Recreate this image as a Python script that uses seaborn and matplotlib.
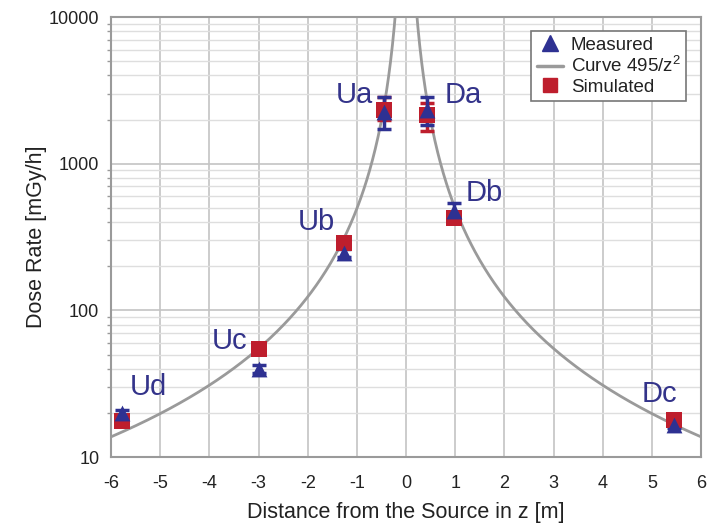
import numpy as np
import pandas as pd
import matplotlib
matplotlib.use("Agg")
import matplotlib.pyplot as plt
import seaborn as sns
from matplotlib.lines import Line2D
from matplotlib.ticker import LogLocator, FixedLocator, NullFormatter

# data
labels = ["Ud", "Uc", "Ub", "Ua", "Da", "Db", "Dc"]
z_pos = [-5.78, -2.99, -1.27, -0.45, 0.42, 0.98, 5.45]
measured = [20, 40, 248, 2250, 2330, 475, 16.5]
meas_err_lo = [1.0, 2.5, 15, 530, 480, 45, 0.8]
meas_err_hi = [1.0, 2.5, 15, 600, 520, 65, 0.8]
simulated = [17.6, 54.5, 288, 2330, 2150, 425, 18]
sim_err_lo = [0.5, 1.5, 12, 350, 480, 30, 0.5]
sim_err_hi = [0.5, 1.5, 12, 520, 450, 20, 0.5]
label_x = [-5.24, -3.6, -1.83, -1.06, 1.16, 1.6, 5.16]
label_y = [30, 62, 400, 2940, 2940, 630, 27]
xticks = list(range(-6, 7))
yticks = [10, 100, 1000, 10000]
curve_k = 495

df = pd.DataFrame({"z": z_pos, "measured": measured, "simulated": simulated})
zz = np.concatenate([np.linspace(-6, -0.2, 300), np.linspace(0.2, 6, 300)])
curve = pd.DataFrame({"z": zz, "dose": curve_k / zz**2,
                      "side": np.where(zz < 0, "L", "R")})

sns.set_style("white")
plt.rcParams["font.family"] = ["Liberation Sans", "DejaVu Sans"]
plt.rcParams["axes.unicode_minus"] = False
plt.rcParams["mathtext.fontset"] = "custom"
plt.rcParams["mathtext.rm"] = "Liberation Sans"

navy = "#2e3192"
red = "#be1e2d"
gray = "#9a9a9a"
txt = "#222222"

fig = plt.figure(figsize=(7.26, 5.23), dpi=100)
ax = fig.add_axes([0.153, 0.126, 0.8126, 0.8414])

ax.set_yscale("log")
ax.set_xlim(-6, 6)
ax.set_ylim(10, 10000)

# grid
ax.xaxis.set_major_locator(FixedLocator(xticks))
ax.yaxis.set_major_locator(FixedLocator(yticks))
ax.yaxis.set_minor_locator(LogLocator(base=10, subs=np.arange(2, 10), numticks=20))
ax.yaxis.set_minor_formatter(NullFormatter())
ax.grid(True, which="major", axis="both", color="#c4c4c4", lw=1.2, zorder=0)
ax.grid(True, which="minor", axis="y", color="#dedede", lw=1.0, zorder=0)
ax.set_axisbelow(True)

# curve 495/z^2
for side, g in curve.groupby("side"):
    sns.lineplot(data=g, x="z", y="dose", color=gray, lw=2.0, ax=ax,
                 zorder=2, legend=False)

# error bars
ax.errorbar(df["z"], df["simulated"], yerr=[sim_err_lo, sim_err_hi], fmt="none",
            ecolor=red, elinewidth=2.5, capsize=5, capthick=2.5, zorder=3)
ax.errorbar(df["z"], df["measured"], yerr=[meas_err_lo, meas_err_hi], fmt="none",
            ecolor=navy, elinewidth=2.5, capsize=5, capthick=2.5, zorder=4)

# markers
sns.scatterplot(data=df, x="z", y="simulated", marker="s", s=120, color=red,
                edgecolor=red, linewidth=0, ax=ax, zorder=5, legend=False)
sns.scatterplot(data=df, x="z", y="measured", marker="^", s=130, color=navy,
                edgecolor=navy, linewidth=0, ax=ax, zorder=6, legend=False)

for t, x, y in zip(labels, label_x, label_y):
    ax.text(x, y, t, color="#33338a", fontsize=21, ha="center", va="center", zorder=7)

# legend
handles = [
    Line2D([], [], marker="^", color=navy, ls="none", markersize=12),
    Line2D([], [], color=gray, lw=2.5),
    Line2D([], [], marker="s", color=red, ls="none", markersize=10),
]
leg = ax.legend(handles, ["Measured", "Curve 495/z$\\mathregular{^2}$", "Simulated"],
                loc="upper right", bbox_to_anchor=(0.975, 0.968), fontsize=13.5,
                frameon=True, fancybox=False, framealpha=1, edgecolor="#777777",
                handlelength=1.4, handletextpad=0.4, borderpad=0.3,
                labelspacing=0.12, borderaxespad=0)
leg.get_frame().set_linewidth(1.2)
for t in leg.get_texts():
    t.set_color(txt)

for s in ax.spines.values():
    s.set_color(gray)
    s.set_linewidth(1.5)
ax.tick_params(axis="both", which="both", direction="out", color=gray,
               labelsize=13, labelcolor=txt)
ax.tick_params(which="major", length=5, width=1.2)
ax.tick_params(axis="x", which="major", pad=8)
ax.tick_params(axis="y", which="minor", length=3, width=1.0, left=True)
ax.set_yticklabels([str(v) for v in yticks])
ax.set_xticklabels([str(v) for v in xticks])

ax.set_xlabel("Distance from the Source in z [m]", fontsize=15.5, color=txt,
              labelpad=7)
ax.set_ylabel("Dose Rate [mGy/h]", fontsize=15.5, color=txt, labelpad=1)

fig.savefig("out.png", dpi=100)
